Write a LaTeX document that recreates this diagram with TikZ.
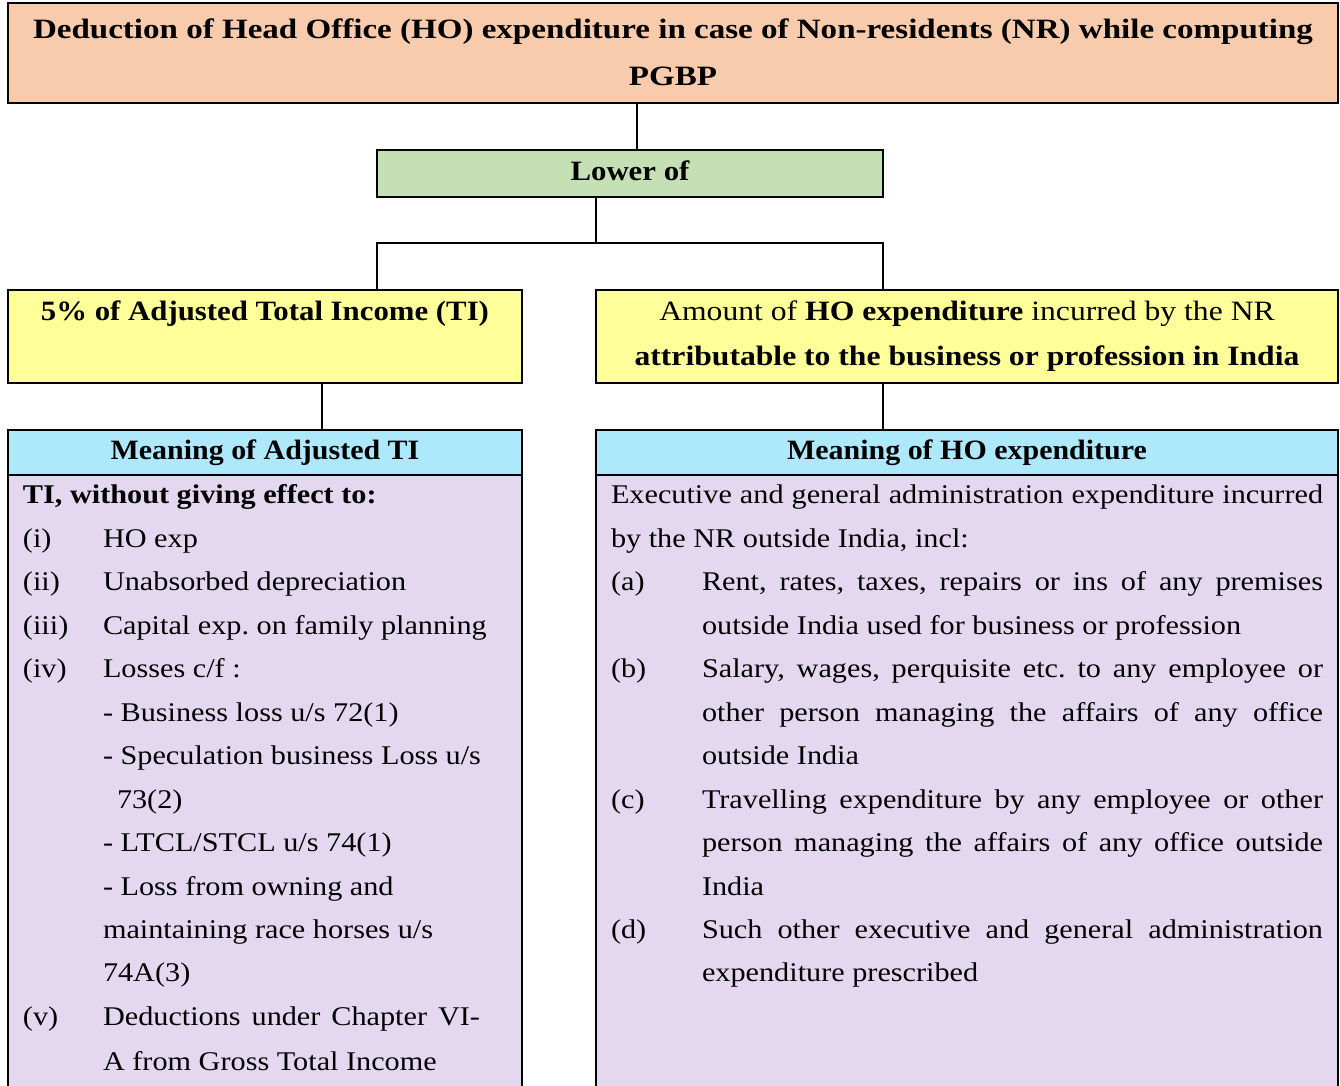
\documentclass[tikz,border=0pt]{standalone}
\usepackage{fontspec}
\setmainfont{Liberation Serif}
\newfontfamily\bodyfont[FakeStretch=1.12]{Liberation Serif}
\newfontfamily\hfont[FakeStretch=1.10]{Liberation Serif}
\newfontfamily\mfont[FakeStretch=1.07]{Liberation Serif}
\newfontfamily\afont[FakeStretch=1.13]{Liberation Serif}
\newfontfamily\tfont[FakeStretch=1.18]{Liberation Serif}
\definecolor{peach}{HTML}{F8CBAD}
\definecolor{lgreen}{HTML}{C5E0B4}
\definecolor{lyellow}{HTML}{FFFF99}
\definecolor{lcyan}{HTML}{ADE8FB}
\definecolor{lav}{HTML}{E4D8F0}
\tikzset{
  box/.style={draw, line width=1.6pt, inner sep=0pt, outer sep=0pt, anchor=north west},
  conn/.style={draw, line width=1.4pt},
  txt/.style={inner sep=0pt, outer sep=0pt, anchor=base west, font=\bodyfont\fontsize{27}{30}\selectfont},
  head/.style={inner sep=0pt, outer sep=0pt, anchor=base, font=\hfont\bfseries\fontsize{28}{32}\selectfont},
  mhead/.style={head, font=\mfont\bfseries\fontsize{28}{32}\selectfont},
}
\newcommand{\jl}[2]{\makebox[#1][s]{#2}}
\begin{document}
\frenchspacing
\begin{tikzpicture}[x=1pt,y=-1pt]
\useasboundingbox (0,0) rectangle (1340,1085);
\clip (0,0) rectangle (1340,1085);
% boxes
\node[box, fill=peach, line width=2pt, minimum width=1330pt, minimum height=100pt] (title) at (8,3) {};
\node[box, fill=lgreen, minimum width=506pt, minimum height=47pt] (lower) at (377,150) {};
\node[box, fill=lyellow, minimum width=514pt, minimum height=93pt] (yl) at (8,290) {};
\node[box, fill=lyellow, minimum width=742pt, minimum height=93pt] (yr) at (596,290) {};
\node[box, fill=lcyan, minimum width=514pt, minimum height=45pt] (hl) at (8,430) {};
\node[box, fill=lcyan, minimum width=742pt, minimum height=45pt] (hr) at (596,430) {};
\node[box, fill=lav, minimum width=514pt, minimum height=640pt] (cl) at (8,475) {};
\node[box, fill=lav, minimum width=742pt, minimum height=640pt] (cr) at (596,475) {};
% connectors
\coordinate (c1) at (637,150);
\draw[conn] (c1) -- (c1 |- title.south);
\coordinate (c2) at (596,197);
\coordinate (jl) at (377,243);
\coordinate (jr) at (883,243);
\draw[conn] (c2) -- (c2 |- jl);
\draw[conn] (jl |- yl.north) -- (jl) -- (jr) -- (jr |- yr.north);
\coordinate (c3) at (322,383);
\draw[conn] (c3) -- (c3 |- hl.north);
\coordinate (c4) at (883,383);
\draw[conn] (c4) -- (c4 |- hr.north);
% headings
\node[head, anchor=center, align=center, font=\tfont\bfseries\fontsize{28}{47}\selectfont] (ttitle) at (673,52) {Deduction of Head Office (HO) expenditure in case of Non-residents (NR) while computing\\PGBP};
\node[head, anchor=center] (tlower) at (630,171) {Lower of};
\node[head] (tyl) at (265,320) {5\% of Adjusted Total Income (TI)};
\node[head, font=\afont\fontsize{28}{32}\selectfont] (tyr1) at (967,320) {Amount of \textbf{HO expenditure} incurred by the NR};
\node[head, font=\afont\bfseries\fontsize{28}{32}\selectfont] (tyr2) at (967,365) {attributable to the business or profession in India};
\node[mhead] (thl) at (265,459) {Meaning of Adjusted TI};
\node[mhead] (thr) at (967,459) {Meaning of HO expenditure};
% left content
\node[txt, font=\bodyfont\bfseries\fontsize{27}{30}\selectfont] (l0) at (23,503) {TI, without giving effect to:};
\node[txt] (l1a) at (23,547) {(i)};
\node[txt] (l1b) at (103,547) {HO exp};
\node[txt] (l2a) at (23,590) {(ii)};
\node[txt] (l2b) at (103,590) {Unabsorbed depreciation};
\node[txt] (l3a) at (23,634) {(iii)};
\node[txt] (l3b) at (103,634) {Capital exp. on family planning};
\node[txt] (l4a) at (23,677) {(iv)};
\node[txt] (l4b) at (103,677) {Losses c/f :};
\node[txt] (l5) at (103,721) {- Business loss u/s 72(1)};
\node[txt] (l6) at (103,764) {- Speculation business Loss u/s};
\node[txt] (l7) at (117,808) {73(2)};
\node[txt] (l8) at (103,851) {- LTCL/STCL u/s 74(1)};
\node[txt] (l9) at (103,895) {- Loss from owning and};
\node[txt] (l10) at (103,938) {maintaining race horses u/s};
\node[txt] (l11) at (103,981) {74A(3)};
\node[txt] (l12a) at (23,1025) {(v)};
\node[txt] (l12b) at (103,1025) {\jl{377pt}{Deductions under Chapter VI-}};
\node[txt] (l13) at (103,1070) {A from Gross Total Income};
% right content
\node[txt] (r1) at (611,503) {\jl{712pt}{Executive and general administration expenditure incurred}};
\node[txt] (r2) at (611,547) {by the NR outside India, incl:};
\node[txt] (r3a) at (611,590) {(a)};
\node[txt] (r3b) at (702,590) {\jl{621pt}{Rent, rates, taxes, repairs or ins of any premises}};
\node[txt] (r4) at (702,634) {outside India used for business or profession};
\node[txt] (r5a) at (611,677) {(b)};
\node[txt] (r5b) at (702,677) {\jl{621pt}{Salary, wages, perquisite etc. to any employee or}};
\node[txt] (r6) at (702,721) {\jl{621pt}{other person managing the affairs of any office}};
\node[txt] (r7) at (702,764) {outside India};
\node[txt] (r8a) at (611,808) {(c)};
\node[txt] (r8b) at (702,808) {\jl{621pt}{Travelling expenditure by any employee or other}};
\node[txt] (r9) at (702,851) {\jl{621pt}{person managing the affairs of any office outside}};
\node[txt] (r10) at (702,895) {India};
\node[txt] (r11a) at (611,938) {(d)};
\node[txt] (r11b) at (702,938) {\jl{621pt}{Such other executive and general administration}};
\node[txt] (r12) at (702,981) {expenditure prescribed};
\end{tikzpicture}
\end{document}
